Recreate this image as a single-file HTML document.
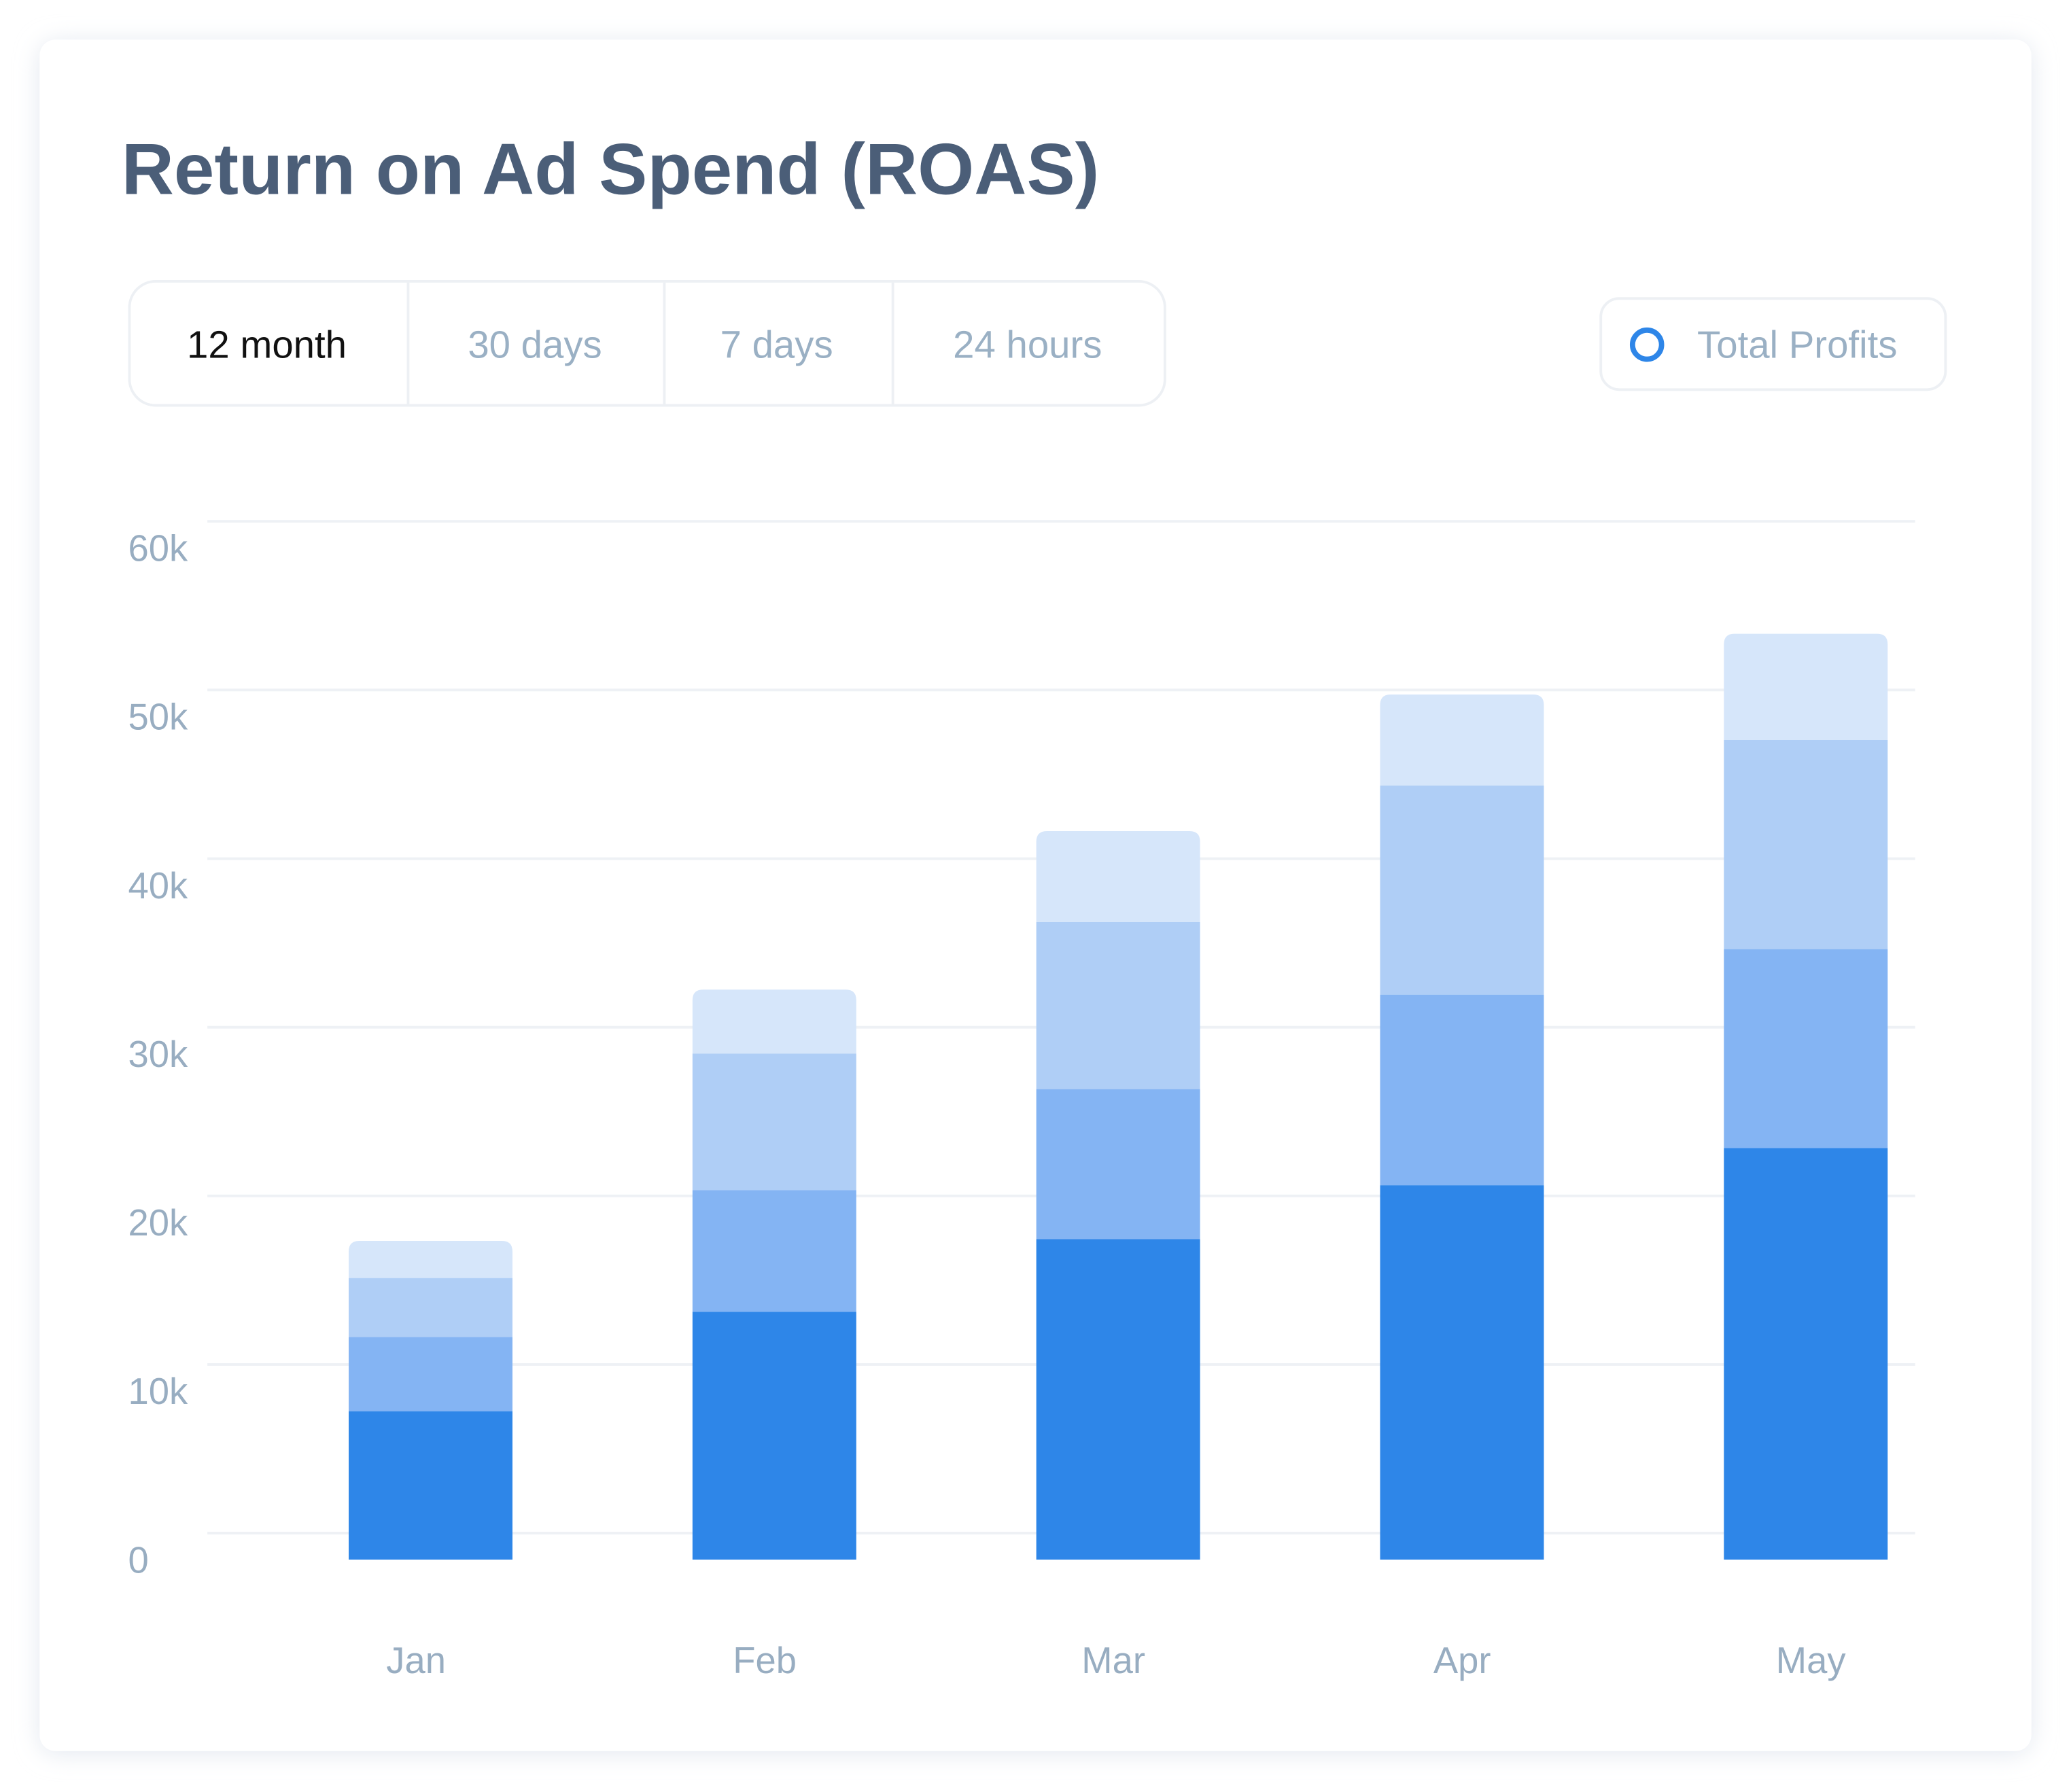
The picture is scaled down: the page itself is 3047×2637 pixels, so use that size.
<!DOCTYPE html>
<html><head><meta charset="utf-8"><style>
html,body{margin:0;padding:0;background:#fff;}
svg{display:block;font-family:"Liberation Sans",sans-serif;}
</style></head><body>
<svg id="chart" width="3047" height="2637" viewBox="0 0 1568 1357">
<defs><filter id="sh" x="-5%" y="-5%" width="110%" height="110%"><feGaussianBlur stdDeviation="9"/></filter></defs>
<rect x="30" y="32" width="1508" height="1296" rx="14" fill="#e3e8f0" filter="url(#sh)"/>
<rect x="30" y="30" width="1508" height="1296" rx="12" fill="#fff"/>
<text x="92" y="147" font-size="55" font-weight="bold" fill="#4b5e78">Return on Ad Spend (ROAS)</text>
<g>
<rect x="98" y="213" width="784" height="94" rx="20" fill="#fff" stroke="#edf0f4" stroke-width="2"/>
<line x1="309" y1="214" x2="309" y2="306" stroke="#edf0f4" stroke-width="2"/>
<line x1="503" y1="214" x2="503" y2="306" stroke="#edf0f4" stroke-width="2"/>
<line x1="676" y1="214" x2="676" y2="306" stroke="#edf0f4" stroke-width="2"/>
<text x="202" y="271" font-size="29" text-anchor="middle" fill="#111">12 month</text>
<text x="405" y="271" font-size="29" text-anchor="middle" fill="#9ab0c4">30 days</text>
<text x="588" y="271" font-size="29" text-anchor="middle" fill="#9ab0c4">7 days</text>
<text x="778" y="271" font-size="29" text-anchor="middle" fill="#9ab0c4">24 hours</text>
</g>
<g>
<rect x="1212" y="226" width="261" height="69" rx="14" fill="#fff" stroke="#edf0f4" stroke-width="2"/>
<circle cx="1247" cy="261" r="11" fill="none" stroke="#2e86e8" stroke-width="4"/>
<text x="1285" y="271" font-size="29" fill="#9ab0c4">Total Profits</text>
</g>
<g id="grid"></g>
<g id="bars"></g>
<g id="xlabels"></g>
</svg>
<script>
const categories = ["Jan","Feb","Mar","Apr","May"];
const series1 = [8.8, 14.7, 19.0, 22.2, 24.4];
const series2 = [4.4, 7.2, 8.9, 11.3, 11.8];
const series3 = [3.5, 8.1, 9.9, 12.4, 12.4];
const series4 = [2.2, 3.8, 5.4, 5.4, 6.3];
const tickValues = [0, 10, 20, 30, 40, 50, 60];
const tickLabels = ["0","10k","20k","30k","40k","50k","60k"];
const NS = "http://www.w3.org/2000/svg";
const colors = ["#2e86e8","#84b4f3","#afcef6","#d6e6fa"];
function yGrid(v){ return 1161 - v * 12.77; }
function yBar(v){ return 1181 - v * 12.77; }
function xBar(i){ return 264 + i * 260.3; }
function xLabel(i){ return 315 + i * 264; }
const barW = 124;
const grid = document.getElementById("grid");
tickValues.forEach((t, i) => {
  const l = document.createElementNS(NS, "line");
  l.setAttribute("x1", 157); l.setAttribute("x2", 1450);
  l.setAttribute("y1", yGrid(t)); l.setAttribute("y2", yGrid(t));
  l.setAttribute("stroke", "#eef1f5"); l.setAttribute("stroke-width", "2");
  
  
  grid.appendChild(l);
  const tx = document.createElementNS(NS, "text");
  tx.setAttribute("x", 97); tx.setAttribute("y", yGrid(t) + 30);
  tx.setAttribute("font-size", "28"); tx.setAttribute("fill", "#98adc1");
  tx.textContent = tickLabels[i];
  
  
  grid.appendChild(tx);
});
const bars = document.getElementById("bars");
const all = [series1, series2, series3, series4];
categories.forEach((c, i) => {
  let base = 0;
  all.forEach((s, k) => {
    const top = base + s[i];
    const y0 = yBar(base), y1 = yBar(top);
    const x = xBar(i);
    const p = document.createElementNS(NS, "path");
    if (k === all.length - 1) {
      const r = 8;
      p.setAttribute("d", `M${x},${y0} L${x},${y1+r} Q${x},${y1} ${x+r},${y1} L${x+barW-r},${y1} Q${x+barW},${y1} ${x+barW},${y1+r} L${x+barW},${y0} Z`);
    } else {
      p.setAttribute("d", `M${x},${y0} L${x},${y1} L${x+barW},${y1} L${x+barW},${y0} Z`);
    }
    p.setAttribute("fill", colors[k]);
    
    
    bars.appendChild(p);
    base = top;
  });
  const t = document.createElementNS(NS, "text");
  t.setAttribute("x", xLabel(i)); t.setAttribute("y", 1267);
  t.setAttribute("text-anchor", "middle"); t.setAttribute("font-size", "28");
  t.setAttribute("fill", "#98adc1");
  t.textContent = c;
  
  
  document.getElementById("xlabels").appendChild(t);
});
</script>
</body></html>
